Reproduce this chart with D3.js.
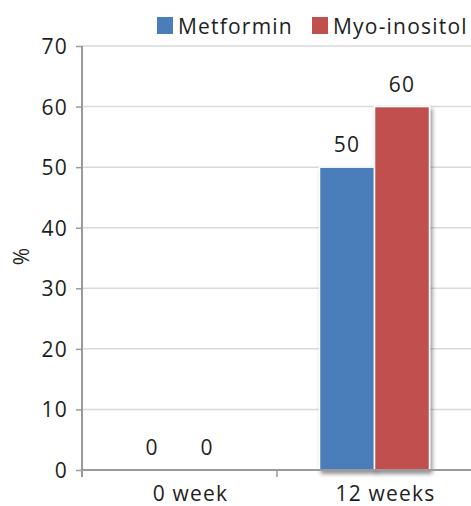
<!DOCTYPE html>
<html><head><meta charset="utf-8">
<script src="https://cdn.jsdelivr.net/npm/d3@7"></script>
<style>
html,body{margin:0;padding:0;background:#fff;}
svg text{font-family:"Open Sans",sans-serif;fill:#1e1e1e;font-size:21px;letter-spacing:1.2px;}
</style></head>
<body><svg id="c" width="471" height="506"></svg>
<script>
const categories = ["0 week", "12 weeks"];
const seriesNames = ["Metformin", "Myo-inositol"];
const metformin = [0, 50];
const myoInositol = [0, 60];
const yTicks = [0, 10, 20, 30, 40, 50, 60, 70];
const colors = ["#4A7EBB", "#C0504D"];

const svg = d3.select("#c");
const m = {l: 82, r: 0, t: 46, b: 36};
const W = 471, H = 506;
const x = d3.scaleBand().domain(categories).range([m.l, m.l + 390]).paddingInner(0).paddingOuter(0);
const y = d3.scaleLinear().domain([0, 70]).range([470, 46]);
const xs = d3.scaleBand().domain(seriesNames).range([0, 110]).padding(0);

const defs = svg.append("defs");
const f = defs.append("filter").attr("id", "sh").attr("x", "-20%").attr("y", "-20%").attr("width", "150%").attr("height", "150%");
f.append("feDropShadow").attr("dx", 2).attr("dy", 3).attr("stdDeviation", 2).attr("flood-color", "#000").attr("flood-opacity", 0.45);

// grid
svg.append("g").selectAll("line").data(yTicks.filter(d => d > 0)).join("line")
  .attr("x1", m.l).attr("x2", W).attr("y1", d => y(d)).attr("y2", d => y(d))
  .attr("stroke", "#d9d9d9").attr("stroke-width", 1.5);

// y axis
const ya = svg.append("g").attr("transform", `translate(${m.l},0)`)
  .call(d3.axisLeft(y).tickValues(yTicks).tickSize(6).tickPadding(8));
ya.attr("font-size", null).attr("font-family", null);
ya.select(".domain").attr("stroke", "#9a9a9a").attr("stroke-width", 2).attr("d", `M0,${y(70)}V${y(0)+7}`);
ya.selectAll(".tick line").attr("stroke", "#9a9a9a").attr("stroke-width", 1.5);
ya.selectAll(".tick text").attr("fill", "#1e1e1e").attr("dy", "0.36em");

// bars
const data = categories.map((c, i) => ({c, vals: [metformin[i], myoInositol[i]]}));
const g = svg.append("g");
data.forEach(d => {
  const cx = x(d.c) + x.bandwidth() / 2 - 55;
  d.vals.forEach((v, j) => {
    const bx = cx + xs(seriesNames[j]);
    if (v > 0) {
      g.append("rect").attr("x", bx).attr("y", y(v)).attr("width", xs.bandwidth()).attr("height", y(0) - y(v))
        .attr("fill", colors[j]).attr("stroke", "#fff").attr("stroke-width", 1.5).attr("filter", "url(#sh)");
    }
    g.append("text").attr("x", bx + xs.bandwidth() / 2).attr("y", y(v) - 15)
      .attr("text-anchor", "middle").text(v);
  });
});

// x axis
const xa = svg.append("g").attr("transform", `translate(0,${y(0)})`);
xa.append("line").attr("x1", m.l).attr("x2", W).attr("stroke", "#9a9a9a").attr("stroke-width", 2);
[m.l, x(categories[1])].forEach(px => xa.append("line").attr("x1", px).attr("x2", px).attr("y1", 0).attr("y2", 7).attr("stroke", "#9a9a9a").attr("stroke-width", 1.5));
categories.forEach(c => xa.append("text").attr("x", x(c) + x.bandwidth() / 2 + 11).attr("y", 31)
  .attr("text-anchor", "middle").text(c));

// y label
svg.append("text").attr("transform", "translate(29,256) rotate(-90)").attr("text-anchor", "middle").text("%");

// legend
const lg = svg.append("g");
const lx = [157, 312];
seriesNames.forEach((s, i) => {
  lg.append("rect").attr("x", lx[i]).attr("y", 17).attr("width", 16).attr("height", 17).attr("fill", colors[i]);
  lg.append("text").attr("x", lx[i] + 21).attr("y", 34).text(s);
});
</script></body></html>
